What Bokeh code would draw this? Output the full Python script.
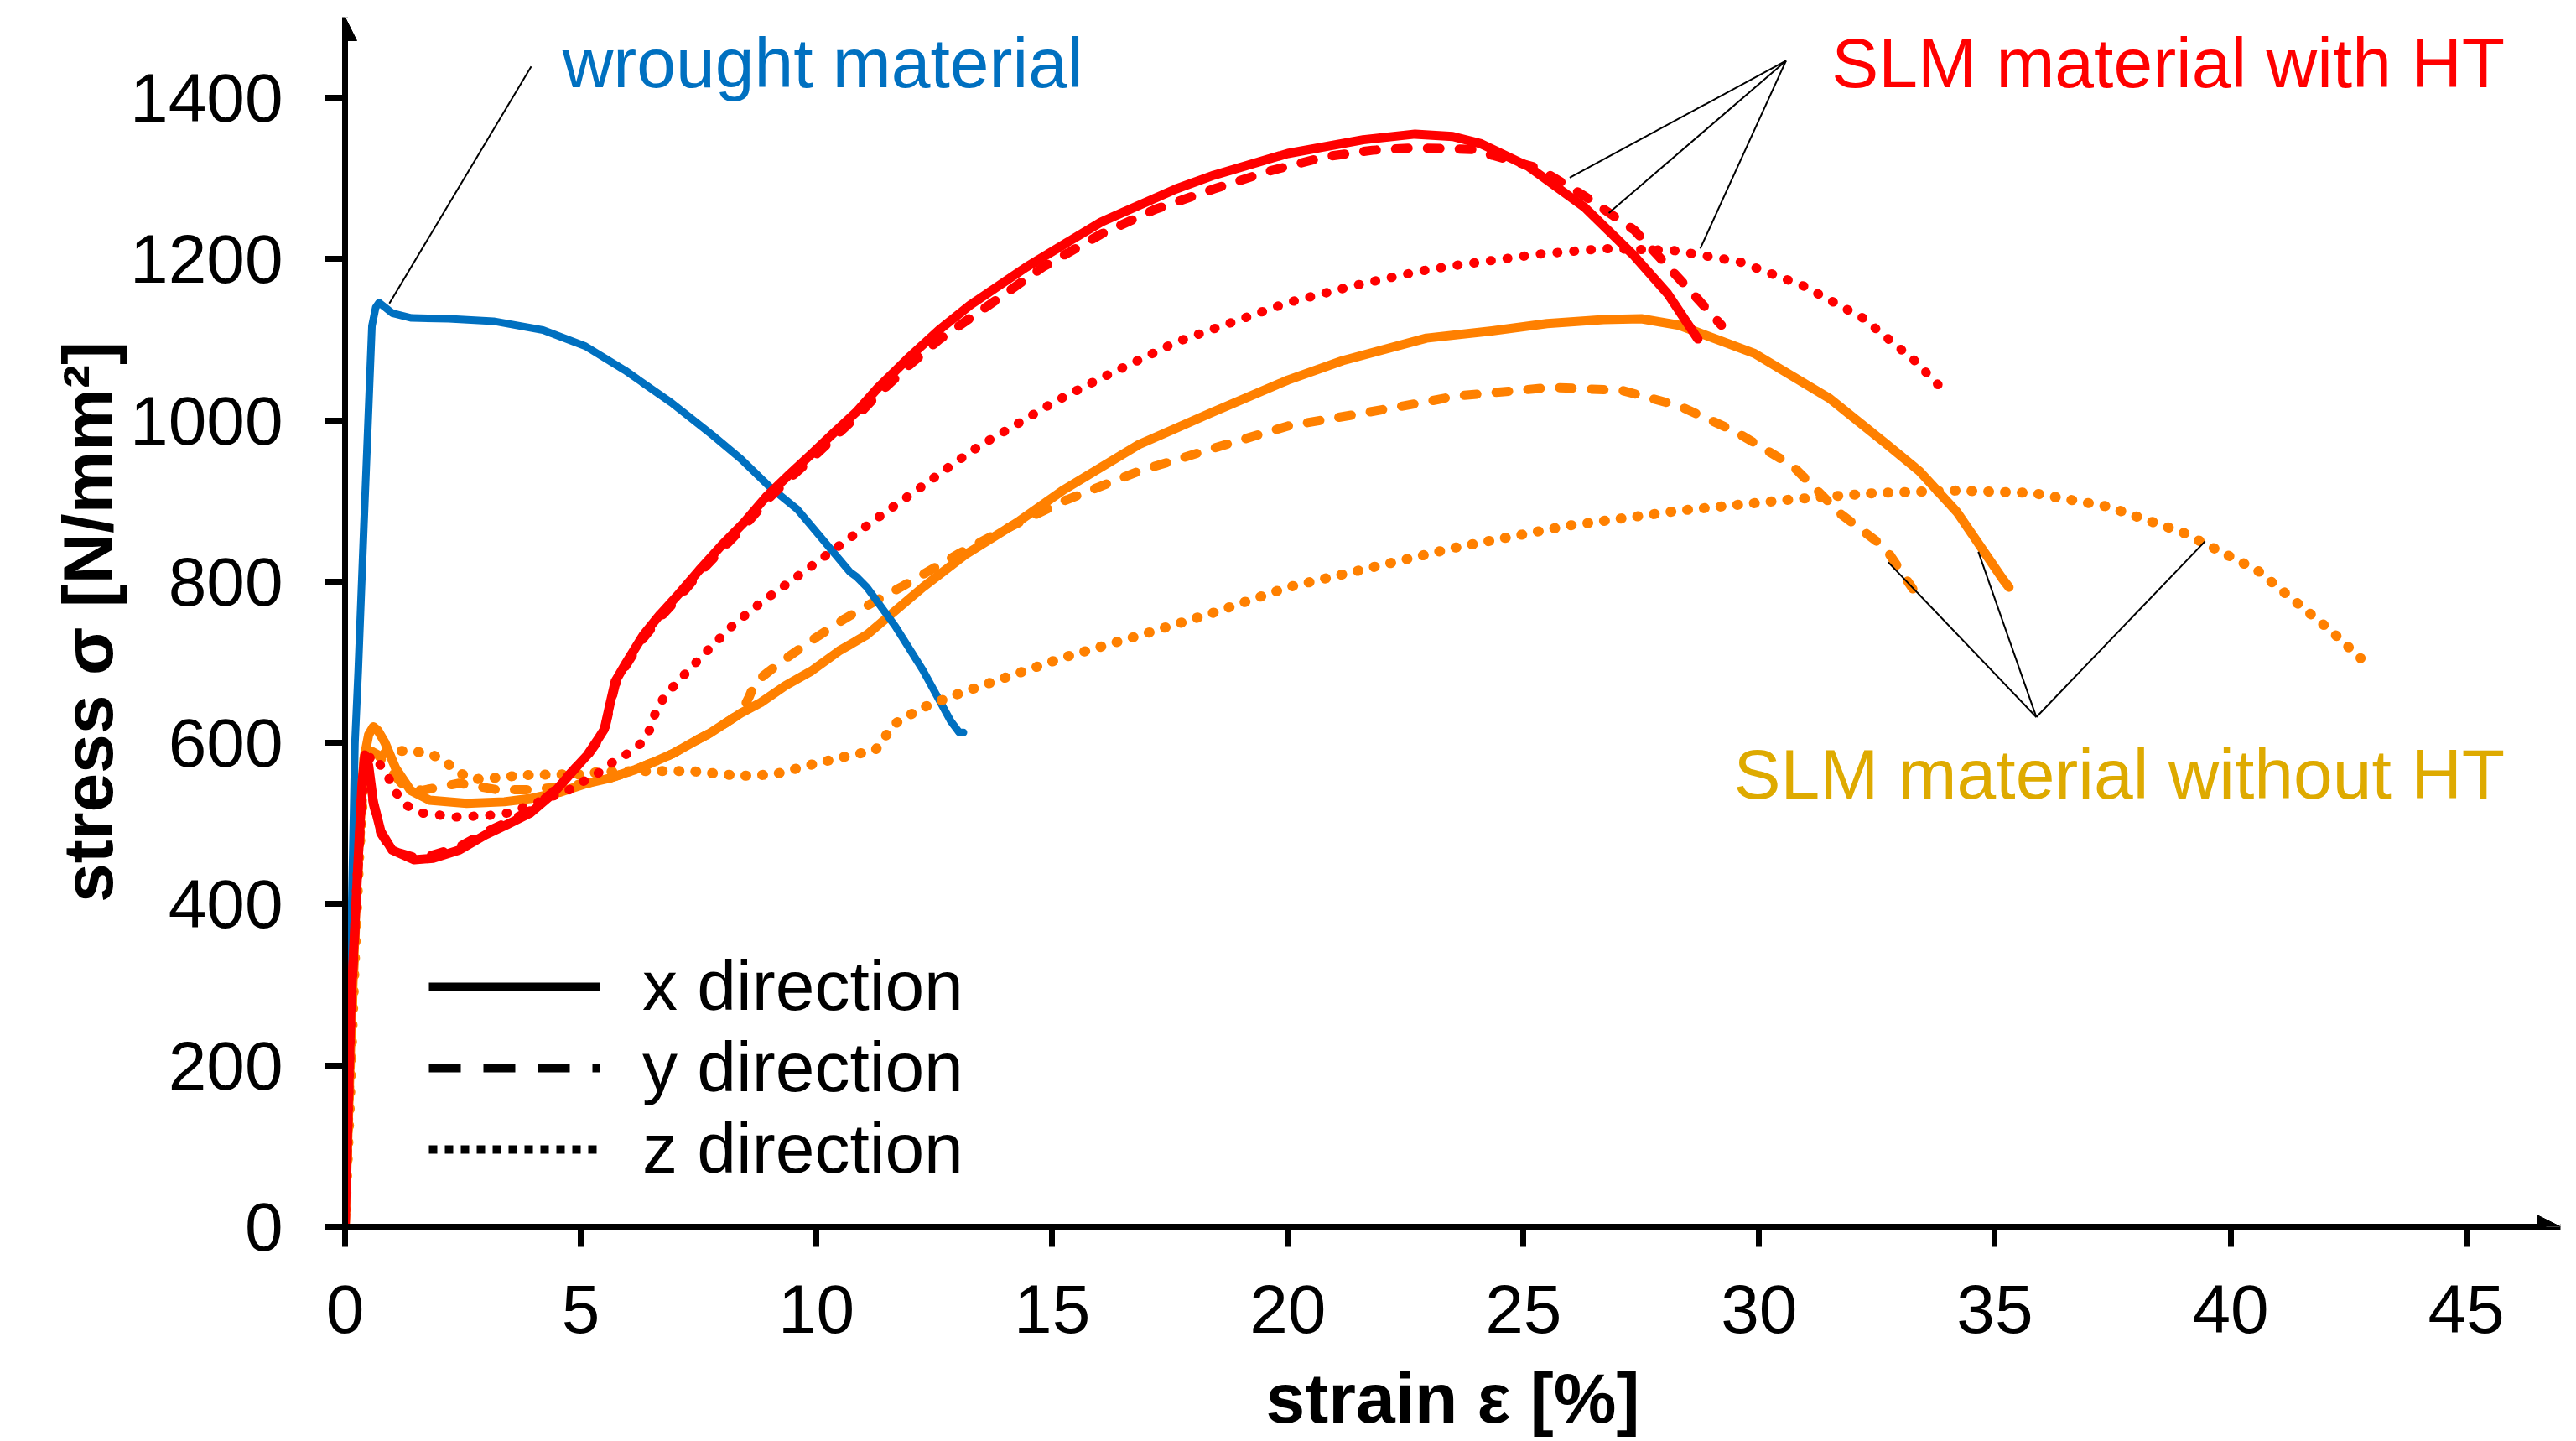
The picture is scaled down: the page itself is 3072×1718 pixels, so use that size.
from bokeh.plotting import figure
from bokeh.models import Range1d, FixedTicker, Arrow, NormalHead, Label, Legend, LegendItem
from bokeh.embed import file_html
from bokeh.resources import INLINE

FONT = "Liberation Sans"
BLUE = "#0070C0"
RED = "#FF0000"
ORANGE = "#FF8000"
YELLOW = "#DEAA00"
NAN = float("nan")

# ---------------- data (strain in %, stress in N/mm²) ----------------
x_ticks = [0, 5, 10, 15, 20, 25, 30, 35, 40, 45]
y_ticks = [0, 200, 400, 600, 800, 1000, 1200, 1400]

wrought_x = [0, 0.1, 0.21, 0.28, 0.4, 0.57, 0.65, 0.72, 0.85, 1.0, 1.41, 2.2, 3.15, 4.2, 5.1, 5.94,
             6.92, 7.81, 8.4, 9.0, 9.59, 10.18, 10.71, 10.85, 11.07, 11.67, 12.26, 12.85, 13.03, 13.12]
wrought_y = [0, 280, 600, 690, 870, 1117, 1140, 1146, 1140, 1133, 1127, 1126, 1123, 1112, 1092, 1062,
             1022, 981, 952, 918, 890, 849, 812, 806, 793, 745, 690, 627, 613, 613]

ht_x_strain = [0, 0.12, 0.28, 0.36, 0.42, 0.5, 0.6, 0.76, 1.0, 1.47, 1.87, 2.42, 2.98, 3.45, 3.93, 4.41,
               4.89, 5.14, 5.38, 5.5, 5.62, 5.73, 5.97, 6.33, 6.68, 7.1, 7.51, 7.99, 8.46, 8.93, 9.41,
               9.89, 10.36, 10.84, 11.3, 12.0, 12.6, 13.26, 14.45, 16.04, 17.63, 18.43, 20.0, 21.6,
               22.7, 23.5, 24.1, 25.1, 26.3, 27.35, 28.06, 28.7]
ht_x_stress = [0, 271, 457, 550, 585, 572, 527, 490, 467, 455, 457, 467, 486, 499, 513, 537,
               569, 585, 606, 617, 648, 676, 700, 734, 759, 786, 814, 845, 873, 905, 932,
               958, 984, 1010, 1040, 1080, 1112, 1143, 1190, 1246, 1287, 1304, 1331, 1348,
               1355, 1352, 1343, 1315, 1264, 1204, 1157, 1101]

ht_y_strain = [0, 0.12, 0.28, 0.36, 0.42, 0.5, 0.6, 0.76, 1.0, 1.47, 1.87, 2.42, 2.98, 3.45, 3.93, 4.41,
               4.89, 5.14, 5.38, 5.5, 5.62, 5.73, 5.97, 6.33, 6.68, 7.1, 7.51, 7.99, 8.46, 8.93, 9.41,
               9.89, 10.36, 10.84, 11.3, 12.0, 12.6, 13.66, 14.8, 16.04, 17.2, 18.43, 19.6, 20.8,
               21.8, 22.7, 23.9, 25.3, 26.3, 27.35, 28.3, 29.2]
ht_y_stress = [0, 265, 450, 545, 580, 565, 525, 488, 466, 458, 461, 471, 489, 502, 516, 539,
               569, 584, 604, 615, 645, 672, 697, 730, 755, 782, 810, 840, 868, 900, 927,
               952, 978, 1004, 1032, 1070, 1100, 1143, 1190, 1231, 1262, 1287, 1309, 1327,
               1335, 1338, 1336, 1313, 1278, 1236, 1176, 1118]

ht_z_strain = [0, 0.12, 0.25, 0.4, 0.55, 0.71, 0.92, 1.07, 1.32, 1.64, 2.35, 3.06, 3.45, 3.9, 4.41,
               4.73, 5.05, 5.38, 5.68, 5.97, 6.27, 6.46, 6.57, 6.74, 6.98, 7.22, 7.73, 8.23, 8.8,
               9.37, 9.96, 10.54, 11.13, 11.73, 12.31, 12.9, 13.5, 14.13, 15.05, 15.99, 17.63, 20.0,
               21.4, 22.8, 23.54, 25.3, 26.7, 28.15, 29.57, 30.93, 32.2, 33.3, 33.8]
ht_z_stress = [0, 250, 430, 560, 585, 576, 557, 539, 522, 513, 508, 510, 513, 522, 534,
               541, 552, 563, 576, 586, 599, 616, 635, 654, 671, 686, 717, 746, 773,
               797, 822, 847, 872, 897, 921, 946, 970, 991, 1023, 1051, 1097, 1146,
               1167, 1185, 1192, 1206, 1213, 1211, 1197, 1167, 1127, 1074, 1044]

noht_x_strain = [0, 0.12, 0.25, 0.4, 0.5, 0.6, 0.7, 0.84, 1.07, 1.39, 1.79, 2.58, 3.38, 3.93, 4.57,
                 5.14, 5.6, 6.16, 6.62, 6.96, 7.51, 7.74, 8.4, 8.82, 9.34, 9.89, 10.48, 11.07, 12.26,
                 13.15, 14.3, 15.25, 16.84, 18.4, 20.0, 21.16, 22.94, 24.33, 25.5, 26.7, 27.5, 28.3,
                 29.9, 31.5, 32.67, 33.4, 34.2, 35.17, 35.3]
noht_x_stress = [0, 230, 430, 580, 610, 620, 615, 601, 569, 541, 529, 525, 527, 531, 539,
                 550, 556, 567, 578, 587, 605, 612, 637, 650, 671, 689, 714, 734, 793,
                 833, 875, 914, 970, 1010, 1050, 1074, 1102, 1111, 1120, 1125, 1126, 1118,
                 1083, 1027, 972, 937, 886, 803, 793]

noht_y_strain = [0, 0.12, 0.25, 0.4, 0.55, 0.7, 0.9, 1.2, 1.63, 2.42, 3.22, 3.93, 4.5, 5.14, 5.6,
                 6.16, 6.62, 6.96, 7.51, 7.74, 8.4, 8.58, 8.7, 9.0, 9.41, 10.0, 10.6, 11.25, 11.85,
                 12.5, 13.03, 13.9, 15.25, 16.84, 18.4, 20.0, 21.6, 22.94, 23.54, 25.6, 27.1, 28.3,
                 29.5, 30.7, 31.73, 32.67, 33.26]
noht_y_stress = [0, 220, 420, 560, 590, 585, 570, 550, 541, 550, 542, 542, 545, 550, 556,
                 567, 578, 587, 605, 612, 637, 658, 675, 689, 707, 731, 754, 776, 795,
                 817, 835, 862, 900, 937, 965, 993, 1009, 1023, 1030, 1041, 1037, 1018,
                 986, 944, 884, 842, 791]

noht_z_strain = [0, 0.1, 0.2, 0.3, 0.4, 0.52, 1.0, 1.39, 1.79, 2.1, 2.39, 2.7, 3.06, 3.77, 4.48,
                 5.14, 5.36, 6.24, 6.62, 7.35, 8.4, 9.11, 9.82, 10.53, 11.25, 11.46, 11.67, 11.96,
                 12.31, 12.97, 13.66, 15.25, 16.84, 18.4, 20.0, 21.6, 23.54, 25.9, 28.3, 30.7, 32.5,
                 34.2, 35.8, 37.4, 38.99, 40.57, 42.15, 42.76]
noht_z_stress = [0, 150, 320, 460, 550, 582, 590, 590, 587, 578, 564, 555, 556, 560, 561,
                 561, 564, 565, 565, 565, 559, 561, 572, 582, 591, 608, 624, 634,
                 645, 660, 674, 706, 733, 761, 793, 815, 842, 869, 888, 902, 910,
                 913, 910, 893, 861, 814, 738, 705]

# annotation leader lines (from label point to curve)
lead_x0 = [3.95, 30.57, 30.57, 30.57, 35.88, 35.88, 35.88]
lead_y0 = [1439, 1446, 1446, 1446, 632, 632, 632]
lead_x1 = [0.94, 25.98, 26.81, 28.75, 32.74, 34.65, 39.46]
lead_y1 = [1145, 1301, 1257, 1213, 824, 837, 850]

legend_labels = ["x direction", "y direction", "z direction"]

# ---------------- figure ----------------
p = figure(width=3072, height=1716, x_range=Range1d(0, 47.0), y_range=Range1d(0, 1500),
           output_backend="svg", toolbar_location=None,
           min_border_left=411, min_border_right=19, min_border_top=20, min_border_bottom=253)
p.grid.visible = False
p.outline_line_color = None
p.background_fill_color = "white"
p.border_fill_color = "white"

for ax in (p.xaxis[0], p.yaxis[0]):
    ax.axis_line_width = 7
    ax.axis_line_color = "black"
    ax.major_tick_line_width = 7
    ax.major_tick_line_color = "black"
    ax.major_tick_out = 24
    ax.major_tick_in = 0
    ax.minor_tick_line_color = None
    ax.major_label_text_font = FONT
    ax.major_label_text_font_size = "82px"
    ax.major_label_text_color = "black"
    ax.axis_label_text_font = FONT
    ax.axis_label_text_font_size = "84px"
    ax.axis_label_text_font_style = "bold"
    ax.axis_label_text_color = "black"

p.xaxis[0].ticker = FixedTicker(ticks=x_ticks)
p.xaxis[0].axis_label = "strain ε [%]"
p.xaxis[0].major_label_standoff = 45
p.xaxis[0].axis_label_standoff = 28
p.xaxis[0].bounds = (0, 46.7)

p.yaxis[0].ticker = FixedTicker(ticks=y_ticks)
p.yaxis[0].axis_label = "stress σ [N/mm²]"
p.yaxis[0].major_label_standoff = 50
p.yaxis[0].axis_label_standoff = 0
p.yaxis[0].bounds = (0, 1478)

# axis arrow heads
p.add_layout(Arrow(end=NormalHead(size=28, fill_color="black", line_color="black"),
                   x_start=46.4, y_start=0, x_end=47.0, y_end=0, line_width=7, line_color="black"))
p.add_layout(Arrow(end=NormalHead(size=28, fill_color="black", line_color="black"),
                   x_start=0, y_start=1460, x_end=0, y_end=1500, line_width=7, line_color="black"))

DASH = "15 23"
DOT = "1 19"

# SLM without HT (orange)
p.line(noht_x_strain, noht_x_stress, line_color=ORANGE, line_width=11, line_cap="round", line_join="round")
p.line(noht_y_strain, noht_y_stress, line_color=ORANGE, line_width=11, line_dash=DASH,
       line_cap="round", line_join="round")
# wrought (blue)
p.line(wrought_x, wrought_y, line_color=BLUE, line_width=9, line_cap="round", line_join="round")
p.line(noht_z_strain, noht_z_stress, line_color=ORANGE, line_width=12, line_dash=DOT,
       line_cap="round", line_join="round")
# SLM with HT (red)
p.line(ht_z_strain, ht_z_stress, line_color=RED, line_width=11, line_dash=DOT,
       line_cap="round", line_join="round")
p.line(ht_y_strain, ht_y_stress, line_color=RED, line_width=11, line_dash=DASH,
       line_cap="round", line_join="round")
p.line(ht_x_strain, ht_x_stress, line_color=RED, line_width=11, line_cap="round", line_join="round")

# leader lines
p.segment(x0=lead_x0, y0=lead_y0, x1=lead_x1, y1=lead_y1, line_color="black", line_width=2)

# text annotations
p.add_layout(Label(x=4.61, y=1443, text="wrought material", text_font=FONT, text_font_size="84px",
                   text_color=BLUE, text_align="left", text_baseline="alphabetic"))
p.add_layout(Label(x=45.82, y=1443, text="SLM material with HT", text_font=FONT, text_font_size="84px",
                   text_color=RED, text_align="right", text_baseline="alphabetic"))
p.add_layout(Label(x=45.82, y=561, text="SLM material without HT", text_font=FONT, text_font_size="84px",
                   text_color=YELLOW, text_align="right", text_baseline="alphabetic"))

# legend (line styles only; the legend renderers hold no visible data)
r_solid = p.line([NAN], [NAN], line_color="black", line_width=10, line_cap="butt")
r_dash = p.line([NAN], [NAN], line_color="black", line_width=10, line_dash="38 27", line_cap="butt")
r_dot = p.line([NAN], [NAN], line_color="black", line_width=10, line_dash="10 9", line_cap="butt")
legend = Legend(items=[LegendItem(label=legend_labels[0], renderers=[r_solid]),
                       LegendItem(label=legend_labels[1], renderers=[r_dash]),
                       LegendItem(label=legend_labels[2], renderers=[r_dot])],
                location=(100, 44), orientation="vertical",
                glyph_width=205, glyph_height=80, label_height=80, label_width=10,
                label_standoff=50, spacing=-2, padding=0, margin=0,
                border_line_color=None, background_fill_alpha=0,
                label_text_font=FONT, label_text_font_size="84px", label_text_color="black")
p.add_layout(legend)

open("out.html", "w").write(file_html(p, INLINE))
